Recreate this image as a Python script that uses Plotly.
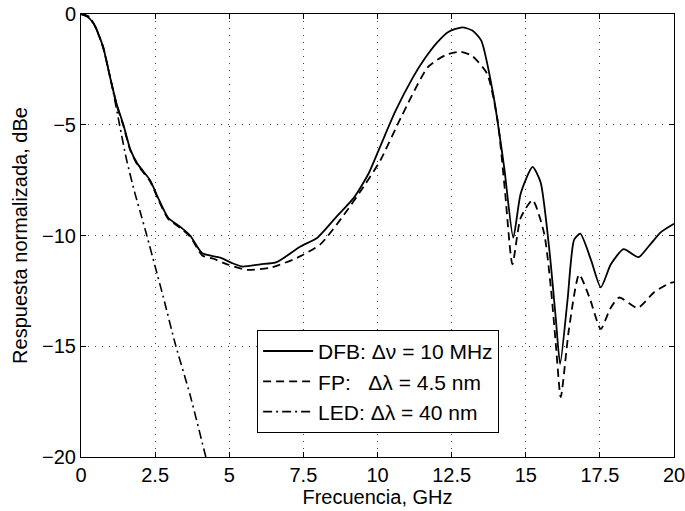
import plotly.graph_objects as go

# ---- data ----
dfb_x = [0, 0.2, 0.42, 0.6, 0.75, 0.98, 1.2, 1.43, 1.66, 1.9, 2.1, 2.33, 2.6, 2.94, 3.34, 3.68,
         4.09, 4.7, 5.1, 5.44, 6.05, 6.6, 7.4, 7.97, 8.65, 9.2, 9.7, 10.1, 10.6, 11.2, 11.6,
         12.0, 12.4, 12.86, 13.2, 13.5, 13.9, 14.27, 14.58, 14.83, 15.23, 15.5, 15.8, 16.01,
         16.16, 16.41, 16.63, 16.84, 17.2, 17.53, 17.87, 18.3, 18.8, 19.2, 19.56, 20]
dfb_y = [0, -0.1, -0.42, -0.95, -1.5, -2.85, -4.05, -5.0, -6.1, -6.75, -7.1, -7.5, -8.3, -9.2, -9.6,
         -10.0, -10.8, -11.0, -11.25, -11.4, -11.3, -11.2, -10.5, -10.1, -9.1, -8.3, -7.2,
         -5.95, -4.4, -2.85, -2.0, -1.3, -0.8, -0.6, -0.75, -1.2, -3.6, -6.9, -10.1, -8.1, -6.9,
         -7.6, -10.7, -13.7, -15.8, -12.9, -10.2, -9.92, -11.1, -12.34, -11.3, -10.62, -10.98,
         -10.4, -9.85, -9.47]

fp_x = [0, 0.2, 0.42, 0.6, 0.75, 0.98, 1.2, 1.43, 1.66, 1.9, 2.1, 2.33, 2.6, 2.94, 3.34, 3.68,
        4.09, 4.47, 4.93, 5.6, 6.4, 7.3, 8.07, 8.85, 9.53, 10.1, 10.8, 11.7, 12.3, 12.8,
        13.2, 13.7, 14.05, 14.3, 14.55, 14.83, 15.23, 15.62, 15.85, 16.02, 16.18, 16.45, 16.8,
        17.15, 17.53, 17.85, 18.15, 18.77, 19.33, 19.84, 20]
fp_y = [0, -0.1, -0.42, -0.95, -1.5, -2.85, -4.1, -5.05, -6.15, -6.8, -7.15, -7.55, -8.35, -9.25,
        -9.65, -10.05, -10.9, -11.05, -11.3, -11.55, -11.45, -11.0, -10.4, -9.1, -7.8, -6.6,
        -4.65, -2.4, -1.85, -1.7, -1.9, -2.7, -4.8, -8.0, -11.3, -9.2, -8.4, -9.9, -12.4, -15.0,
        -17.3, -14.3, -11.76, -12.8, -14.22, -13.3, -12.8, -13.27, -12.56, -12.16, -12.1]

led_x = [0, 0.25, 0.5, 0.75, 1.0, 1.3, 1.54, 1.82, 2.0, 2.22, 2.5, 2.78, 3.18, 3.68, 4.21, 4.4]
led_y = [0, -0.1, -0.6, -1.55, -2.95, -5.0, -6.6, -8.1, -8.95, -10.0, -11.4, -12.8, -14.9, -17.2,
         -20.0, -21.0]

names = ["DFB: \u0394\u03bd = 10 MHz",
         "FP:\u00a0\u00a0\u00a0\u0394\u03bb = 4.5 nm",
         "LED: \u0394\u03bb = 40 nm"]

x_ticks = [0, 2.5, 5, 7.5, 10, 12.5, 15, 17.5, 20]
x_tick_text = ["0", "2.5", "5", "7.5", "10", "12.5", "15", "17.5", "20"]
y_ticks = [0, -5, -10, -15, -20]

FONT = "Liberation Sans, Arial, Helvetica, sans-serif"
FS = 20

fig = go.Figure()
fig.add_trace(go.Scatter(x=dfb_x, y=dfb_y, mode="lines", name=names[0], legendgroup="a",
                         line=dict(color="black", width=1.8, shape="spline", smoothing=0.6)))
fig.add_trace(go.Scatter(x=fp_x, y=fp_y, mode="lines", name=names[1], legendgroup="b",
                         line=dict(color="black", width=1.8, dash="8px,5px", shape="spline", smoothing=0.6)))
fig.add_trace(go.Scatter(x=led_x, y=led_y, mode="lines", name=names[2], legendgroup="c",
                         line=dict(color="black", width=1.6, dash="9px,4px,2px,4px", shape="spline", smoothing=0.6)))

axis_common = dict(
    showline=True, linecolor="black", linewidth=1, mirror="ticks",
    ticks="inside", ticklen=5, tickcolor="black", tickwidth=1,
    showgrid=True, gridcolor="#444", gridwidth=1, griddash="1px,6px",
    zeroline=False, tickfont=dict(family=FONT, size=FS, color="black"),
    ticklabeloverflow="allow",
)

fig.update_xaxes(range=[0, 20], tickvals=x_ticks, ticktext=x_tick_text,
                 title=dict(text="Frecuencia, GHz", font=dict(family=FONT, size=FS, color="black"),
                            standoff=4),
                 **axis_common)
fig.update_yaxes(range=[-20, 0], tickvals=y_ticks,
                 title=dict(text="Respuesta normalizada, dBe", font=dict(family=FONT, size=FS, color="black"),
                            standoff=9),
                 **axis_common)

fig.update_layout(
    width=685, height=511,
    margin=dict(l=81, r=11, t=14, b=54, autoexpand=False),
    paper_bgcolor="white", plot_bgcolor="white",
    font=dict(family=FONT, size=FS, color="black"),
    showlegend=True,
    legend=dict(x=0.297, y=0.287, xanchor="left", yanchor="top",
                bgcolor="white", bordercolor="black", borderwidth=1,
                font=dict(family=FONT, size=21, color="black"),
                itemwidth=50,
                traceorder="grouped", tracegroupgap=0),
)

fig.write_html("out.html")
